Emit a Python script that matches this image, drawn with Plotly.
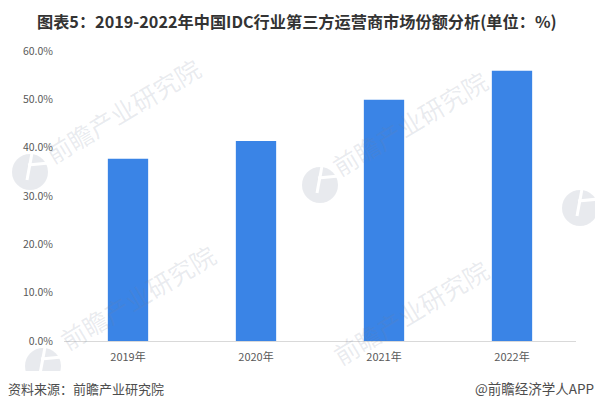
import plotly.graph_objects as go

categories = ["2019年", "2020年", "2021年", "2022年"]
values = [37.7, 41.4, 49.9, 55.9]
y_ticks = [0, 10, 20, 30, 40, 50, 60]
y_labels = ["0.0%", "10.0%", "20.0%", "30.0%", "40.0%", "50.0%", "60.0%"]
title_text = "图表5：2019-2022年中国IDC行业第三方运营商市场份额分析(单位：%)"
source_text = "资料来源：前瞻产业研究院"
credit_text = "@前瞻经济学人APP"
watermark_text = "前瞻产业研究院"
watermark_spots = [(123, 110), (409, 123), (137, 297), (410, 312)]
logo_spots = [(30, 172), (320, 185), (580, 208), (43, 366)]

W, H = 595, 409
FONT = "Noto Sans CJK SC"
MARK = "rgba(120,130,155,0.17)"
MARK_TEXT = "rgba(120,130,155,0.16)"

fig = go.Figure(go.Bar(x=categories, y=values, marker=dict(color="#3a84e6", line_width=0), width=0.315,
                       cliponaxis=False))

ann = []
for x, y in watermark_spots:
    ann.append(dict(text=watermark_text, x=x / W, y=1 - y / H, xanchor="center", yanchor="middle",
                    showarrow=False, textangle=-31,
                    font=dict(family=FONT, size=25, color=MARK_TEXT)))
ann.append(dict(text=title_text, x=297 / W, y=1 - 21 / H, xanchor="center", yanchor="middle", showarrow=False,
                font=dict(family=FONT, size=16.2, color="#333333", weight="bold")))
ann.append(dict(text=source_text, x=6 / W, y=1 - 388 / H, xanchor="left", yanchor="middle", showarrow=False,
                font=dict(family=FONT, size=13, color="#4d4d4d")))
ann.append(dict(text=credit_text, x=596 / W, y=1 - 388 / H, xanchor="right", yanchor="middle", showarrow=False,
                font=dict(family=FONT, size=13.5, color="#4d4d4d")))
for a in ann:
    a["xref"] = "paper"
    a["yref"] = "paper"


def px(x, y):
    return x / W, 1 - y / H


shapes = []
for x, y in logo_spots:
    x0, y0 = px(x - 18, y + 18)
    x1, y1 = px(x + 18, y - 18)
    shapes.append(dict(type="circle", xref="paper", yref="paper", layer="below", line_width=0,
                       fillcolor=MARK, x0=x0, x1=x1, y0=y0, y1=y1))
    for (ax, ay), (bx, by) in [((x + 2, y - 19), (x - 3, y + 8)), ((x - 2, y - 7), (x + 19, y - 9))]:
        sx, sy = px(ax, ay)
        ex, ey = px(bx, by)
        shapes.append(dict(type="line", xref="paper", yref="paper", layer="below",
                           line=dict(color="white", width=3), x0=sx, y0=sy, x1=ex, y1=ey))
# white footer strip under the source line
fx0, fy0 = px(0, 409)
fx1, fy1 = px(595, 371)
shapes.append(dict(type="rect", xref="paper", yref="paper", layer="below", line_width=0, fillcolor="white",
                   x0=fx0, y0=fy0, x1=fx1, y1=fy1))

fig.update_layout(
    width=W, height=H, autosize=False, showlegend=False, plot_bgcolor="rgba(0,0,0,0)", paper_bgcolor="white",
    margin=dict(l=0, r=0, t=0, b=0, autoexpand=False), annotations=ann, shapes=shapes,
    font=dict(family=FONT, size=10.5, color="#595959"),
    xaxis=dict(domain=[64 / W, 576 / W], automargin=False, showline=True, linecolor="#d9d9d9", linewidth=1, ticks="",
               showgrid=False, tickfont=dict(size=11, color="#595959"), ticklabelstandoff=6),
    yaxis=dict(domain=[1 - 341 / H, 1 - 51 / H], automargin=False, range=[0, 60], tickvals=y_ticks, ticktext=y_labels,
               showgrid=False, zeroline=False, ticks="", tickfont=dict(size=10.5, color="#595959"),
               ticklabelstandoff=10),
)
fig.write_html("out.html", config={"displayModeBar": False},
               post_script="document.body.style.margin='0';document.documentElement.style.overflow='hidden';")
